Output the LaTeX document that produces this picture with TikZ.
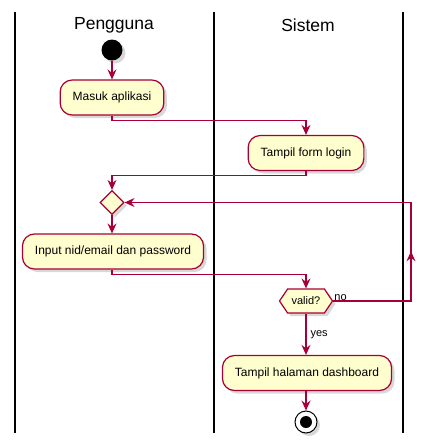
\documentclass[tikz,border=0pt]{standalone}
\usepackage{fontspec}
\setmainfont{Liberation Sans}
\usetikzlibrary{arrows.meta,shapes.geometric,shapes.symbols,shadows,decorations.markings}
\definecolor{umlred}{HTML}{A80036}
\definecolor{umlfill}{HTML}{FEFECE}
\tikzset{
  shad/.style={drop shadow={shadow xshift=3pt, shadow yshift=-3pt, opacity=0.3}},
  act/.style={draw=umlred, fill=umlfill, line width=1.2pt, rounded corners=12pt,
    minimum height=35pt, inner xsep=12.5pt, font=\fontsize{12}{14}\selectfont, shad},
  flow/.style={draw=umlred, line width=1.1pt, -{Stealth[length=10pt,width=9pt,inset=3.5pt]}},
  lane/.style={draw=black, line width=1.4pt},
  title/.style={font=\fontsize{17.5}{20}\selectfont},
  lbl/.style={font=\fontsize{11}{13}\selectfont, inner sep=1pt},
  merge/.style={shape=diamond, draw=umlred, fill=umlfill, line width=1.2pt,
    minimum width=24pt, minimum height=24pt, inner sep=0pt, shad},
  hexa/.style={shape=signal, signal to=west and east, signal pointer angle=112,
    draw=umlred, fill=umlfill, line width=1.2pt, minimum height=24pt,
    minimum width=53pt, inner xsep=2pt, font=\fontsize{11}{13}\selectfont, shad},
  midarrow/.style={postaction={decorate}, decoration={markings,
    mark=at position 127.5pt with {\arrow{Stealth[length=10pt,width=9pt,inset=3.5pt]}}}},
}
\begin{document}
\begin{tikzpicture}[x=1pt,y=-1pt]
\useasboundingbox[fill=white] (0,0) rectangle (435,448);
% swimlanes
\draw[lane] (15,12) -- (15,433);
\draw[lane] (214,12) -- (214,433);
\draw[lane] (403,12) -- (403,433);
\node[title] (t1) at (114,25) {Pengguna};
\node[title] (t2) at (308,25) {Sistem};
% nodes
\node[circle, fill=black, minimum size=21pt, inner sep=0pt, shad] (start) at (112,50) {};
\node[act] (masuk) at (112,97.5) {Masuk aplikasi};
\node[act] (form) at (306,153) {Tampil form login};
\node[merge] (mg) at (112,202.5) {};
\node[act] (input) at (113,251.5) {Input nid/email dan password};
\node[hexa] (valid) at (306,301) {valid?};
\node[act] (dash) at (307,373) {Tampil halaman dashboard};
\node[circle, draw=black, fill=white, line width=1pt, minimum size=22pt, inner sep=0pt, shad] (endo) at (306,422) {};
\node[circle, fill=black, minimum size=12pt, inner sep=0pt] (endi) at (endo.center) {};
\coordinate (c1) at (411,301);
\coordinate (c2) at (411,202.5);
% connectors
\draw[flow] (start) -- (masuk.north);
\draw[flow] (masuk.south) -- ++(0,5) -| (form.north);
\draw[flow] (form.south) -- ++(0,4) -| (mg.north);
\draw[flow] (mg.south) -- (input.north -| mg.south);
\draw[flow] (input.south -| mg.south) -- ++(0,5) -| (valid.north);
\draw[flow, midarrow] (valid.east) -- (c1) -- (c2) -- (mg.east);
\draw[flow] (valid.south) -- node[lbl, anchor=west, xshift=3pt] {yes} (dash.north -| valid.south);
\draw[flow] (dash.south -| endo.north) -- (endo.north);
\node[lbl, anchor=south west] (no) at ([yshift=-1pt]valid.east) {no};
\end{tikzpicture}
\end{document}
